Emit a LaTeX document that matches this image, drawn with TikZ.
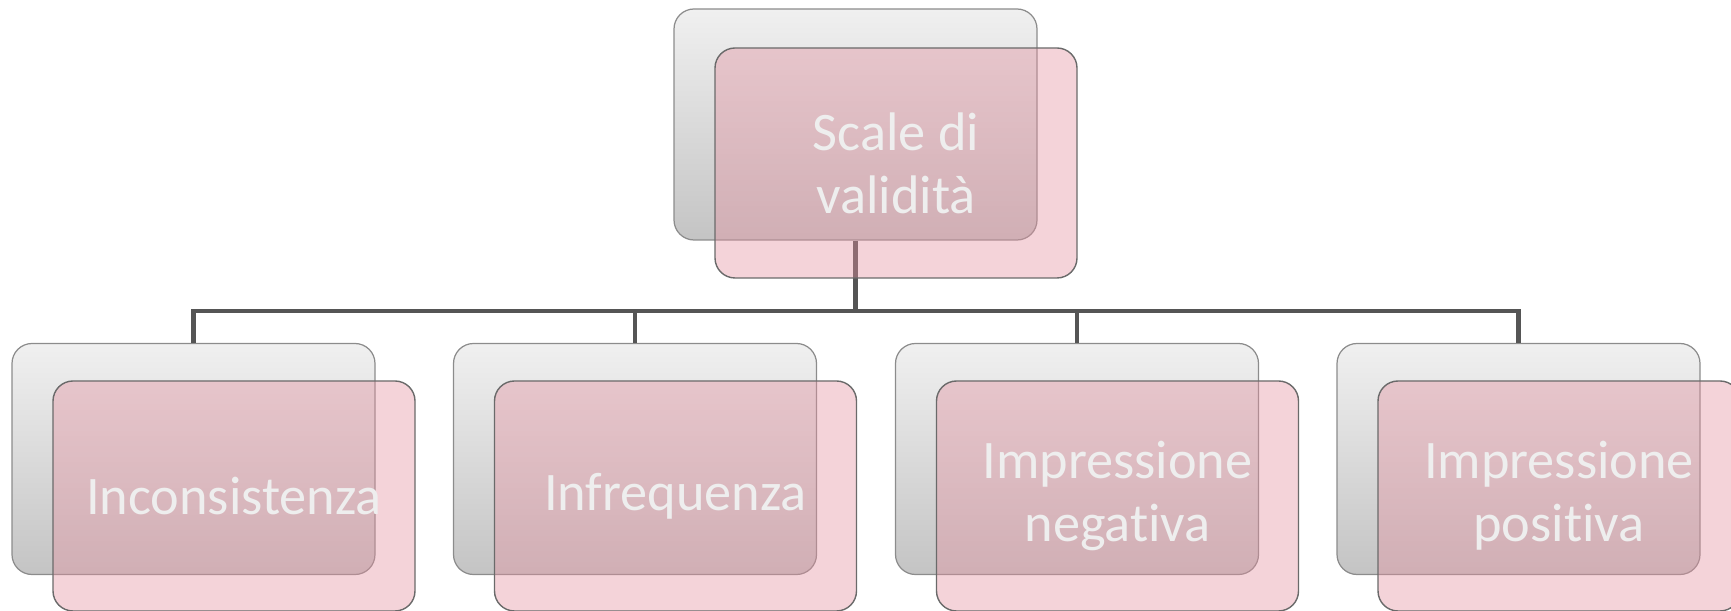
\documentclass[tikz,border=0pt]{standalone}
\usepackage{fontspec}
\setmainfont[Ligatures=NoCommon]{Carlito}
\definecolor{backtop}{HTML}{F0F0F0}
\definecolor{backbottom}{HTML}{C4C4C4}
\definecolor{backline}{HTML}{8C8C8C}
\definecolor{frontfill}{HTML}{E4909F}
\definecolor{frontline}{HTML}{6A6A6A}
\definecolor{linkcol}{HTML}{555555}
\definecolor{labelcol}{HTML}{EEEEEE}
\begin{document}
\begin{tikzpicture}[
        back/.style={draw=backline, line width=0.7pt, rounded corners=0.4cm,
            top color=backtop, bottom color=backbottom,
            minimum width=7.26cm, minimum height=4.62cm, inner sep=0pt},
        front/.style={draw=frontline, line width=0.8pt, rounded corners=0.4cm,
            fill=frontfill, fill opacity=0.4, text opacity=1, text=labelcol,
            minimum width=7.24cm, minimum height=4.6cm, inner sep=0pt,
            align=center, font=\fontsize{30.9}{35.9}\selectfont},
        link/.style={draw=linkcol, line width=2.5pt}
    ]
                \useasboundingbox (0, 0) rectangle (34.62, 12.22);
                % grey cards behind
                \node (svback) at (17.11, 9.73) [back] {};
                \node (incback) at (3.87, 3.04) [back] {};
                \node (infrback) at (12.70, 3.04) [back] {};
                \node (impnegback) at (21.54, 3.04) [back] {};
                \node (impposback) at (30.37, 3.04) [back] {};
                % tree lines
                \coordinate (bus) at (17.11, 6.00);
                \draw[link] (svback.south) -- (bus);
                \draw[link] (incback.north) |- (bus) -| (impposback.north);
                \draw[link] (infrback.north) -- (infrback.north |- bus);
                \draw[link] (impnegback.north) -- (impnegback.north |- bus);
                % pink cards with the labels
                \node (sv) at (17.92, 8.96) [front] {Scale di\\validità};
                \node (inc) at (4.68, 2.30) [front] {Inconsistenza};
                \node (infr) at (13.51, 2.30) [front] {Infrequenza};
                \node (impneg) at (22.35, 2.30) [front] {Impressione\\negativa};
                \node (imppos) at (31.18, 2.30) [front] {Impressione\\positiva};
            \end{tikzpicture}
\end{document}
